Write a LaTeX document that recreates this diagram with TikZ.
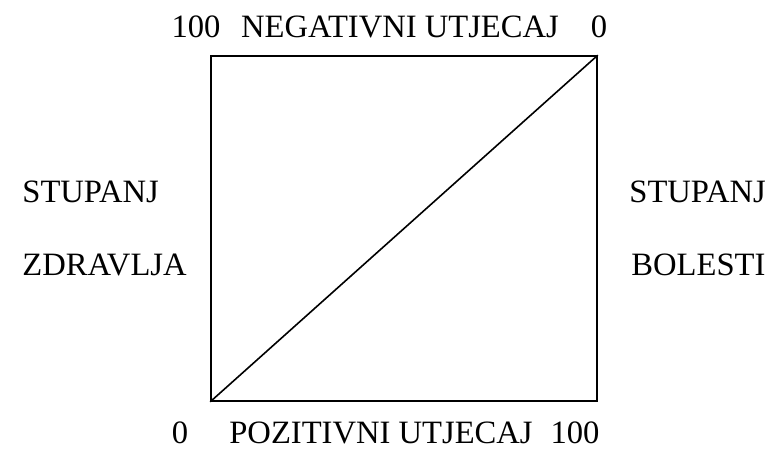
\documentclass[tikz,border=0pt]{standalone}
\usepackage{fontspec}
\setmainfont{Liberation Serif}
\usetikzlibrary{positioning}

\begin{document}
\begin{tikzpicture}[
    x=0.5pt, y=-0.5pt,
    lbl/.style={inner sep=0pt, anchor=base, font=\fontsize{16.3}{19}\selectfont},
    side/.style={lbl, anchor=base west},
    frame/.style={draw, line width=0.8pt, minimum width=193pt, minimum height=172.5pt, inner sep=0pt},
    diag/.style={line width=0.8pt}
]
    \useasboundingbox (0,0) rectangle (765,449);

    \node (box) [frame] at (404,228.5) {};
    \draw [diag] (box.south west) -- (box.north east);

    \node (t100) [lbl] at (196,38) {100};
    \node (neg) [lbl] at (400,38) {NEGATIVNI UTJECAJ};
    \node (t0) [lbl] at (599,38) {0};

    \node (b0) [lbl] at (180,443) {0};
    \node (poz) [lbl] at (381,443) {POZITIVNI UTJECAJ};
    \node (b100) [lbl] at (575,443) {100};

    \node (ls) [side] at (22,202) {STUPANJ};
    \node (lz) [side] at (22,275) {ZDRAVLJA};
    \node (rs) [side] at (629,202) {STUPANJ};
    \node (rb) [side] at (631,275) {BOLESTI};
\end{tikzpicture}
\end{document}
